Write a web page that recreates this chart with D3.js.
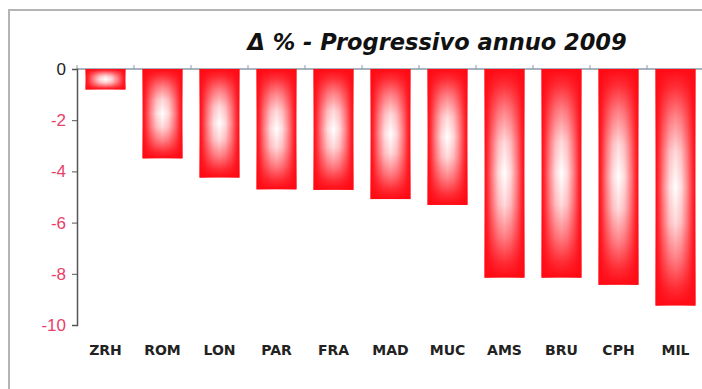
<!DOCTYPE html>
<html>
<head>
<meta charset="utf-8">
<script src="https://cdn.jsdelivr.net/npm/d3@7"></script>
<style>
  body { margin: 0; background: #fff; }
  svg { display: block; }
</style>
</head>
<body>
<div id="chart"></div>
<script>
const categories = ["ZRH", "ROM", "LON", "PAR", "FRA", "MAD", "MUC", "AMS", "BRU", "CPH", "MIL"];
const values = [-0.8, -3.49, -4.24, -4.7, -4.72, -5.08, -5.31, -8.15, -8.15, -8.43, -9.24];
const yTicks = [0, -2, -4, -6, -8, -10];
const title = "\u0394 % - Progressivo annuo 2009";

const width = 702, height = 389;
const svg = d3.select("#chart").append("svg")
    .attr("width", width)
    .attr("height", height);

// "from center" look: horizontal red-white-red fill plus a vertical red overlay at top/bottom
const defs = svg.append("defs");
const hStops = [[0, "#ff0a14"], [0.075, "#ff2f37"], [0.2, "#ff858a"], [0.35, "#ffdadc"], [0.5, "#ffffff"],
                [0.65, "#ffdadc"], [0.8, "#ff858a"], [0.925, "#ff2f37"], [1, "#ff0a14"]];
const hGrad = defs.append("linearGradient").attr("id", "hGrad")
    .attr("x1", "0%").attr("x2", "100%").attr("y1", "0%").attr("y2", "0%");
hStops.forEach(s => hGrad.append("stop").attr("offset", s[0]).attr("stop-color", s[1]));

const vStops = [[0, 1], [0.075, 0.85], [0.2, 0.5], [0.35, 0.15], [0.5, 0],
                [0.65, 0.15], [0.8, 0.5], [0.925, 0.85], [1, 1]];
const vGrad = defs.append("linearGradient").attr("id", "vGrad")
    .attr("x1", "0%").attr("x2", "0%").attr("y1", "0%").attr("y2", "100%");
vStops.forEach(s => vGrad.append("stop").attr("offset", s[0])
    .attr("stop-color", "#ff0a14").attr("stop-opacity", s[1]));

// outer frame
svg.append("rect")
    .attr("x", 9).attr("y", 10)
    .attr("width", 720).attr("height", 400)
    .attr("fill", "none")
    .attr("stroke", "#b4b4b4")
    .attr("stroke-width", 2);

const x = d3.scaleBand()
    .domain(categories)
    .range([77, 704])
    .paddingInner(0.3)
    .paddingOuter(0.15);

const y = d3.scaleLinear()
    .domain([-10, 0])
    .range([325, 69]);

// top axis line at 0 with small ticks between categories
svg.append("line")
    .attr("x1", 77).attr("x2", 704)
    .attr("y1", y(0)).attr("y2", y(0))
    .attr("stroke", "#8a9aaa").attr("stroke-width", 1.5);

svg.selectAll(".cattick")
    .data(categories)
    .enter().append("line")
    .attr("x1", d => x(d) - x.step() * x.paddingInner() / 2)
    .attr("x2", d => x(d) - x.step() * x.paddingInner() / 2)
    .attr("y1", y(0) - 4).attr("y2", y(0))
    .attr("stroke", "#8a9aaa").attr("stroke-width", 1);

// bars
["url(#hGrad)", "url(#vGrad)"].forEach(fill => {
    svg.selectAll(null)
        .data(values)
        .enter().append("rect")
        .attr("x", (d, i) => x(categories[i]))
        .attr("y", y(0))
        .attr("width", x.bandwidth())
        .attr("height", d => y(d) - y(0))
        .attr("fill", fill);
});

// y axis
const yAxis = svg.append("g")
    .attr("transform", "translate(77,0)")
    .call(d3.axisLeft(y).tickValues(yTicks).tickSize(5).tickPadding(6).tickFormat(d3.format("d")));

yAxis.select(".domain").attr("stroke", "#555").attr("stroke-width", 1.5);
yAxis.selectAll(".tick line").attr("stroke", "#555");
yAxis.selectAll(".tick text")
    .style("font-family", "Liberation Sans, Arial, sans-serif")
    .style("font-size", "17px")
    .attr("fill", d => d === 0 ? "#222" : "#e8406a")
    .text(d => d === 0 ? "0" : "-" + Math.abs(d));

// category labels
svg.selectAll(".cat")
    .data(categories)
    .enter().append("text")
    .attr("x", d => x(d) + x.bandwidth() / 2)
    .attr("y", 355)
    .attr("text-anchor", "middle")
    .style("font-family", "DejaVu Sans, Verdana, sans-serif")
    .style("font-weight", "bold")
    .style("font-size", "14px")
    .attr("fill", "#222")
    .text(d => d);

// title
svg.append("text")
    .attr("x", 437)
    .attr("y", 50)
    .attr("text-anchor", "middle")
    .style("font-family", "DejaVu Sans, Verdana, sans-serif")
    .style("font-weight", "bold")
    .style("font-style", "italic")
    .style("font-size", "22.5px")
    .attr("fill", "#111")
    .text(title);
</script>
</body>
</html>
